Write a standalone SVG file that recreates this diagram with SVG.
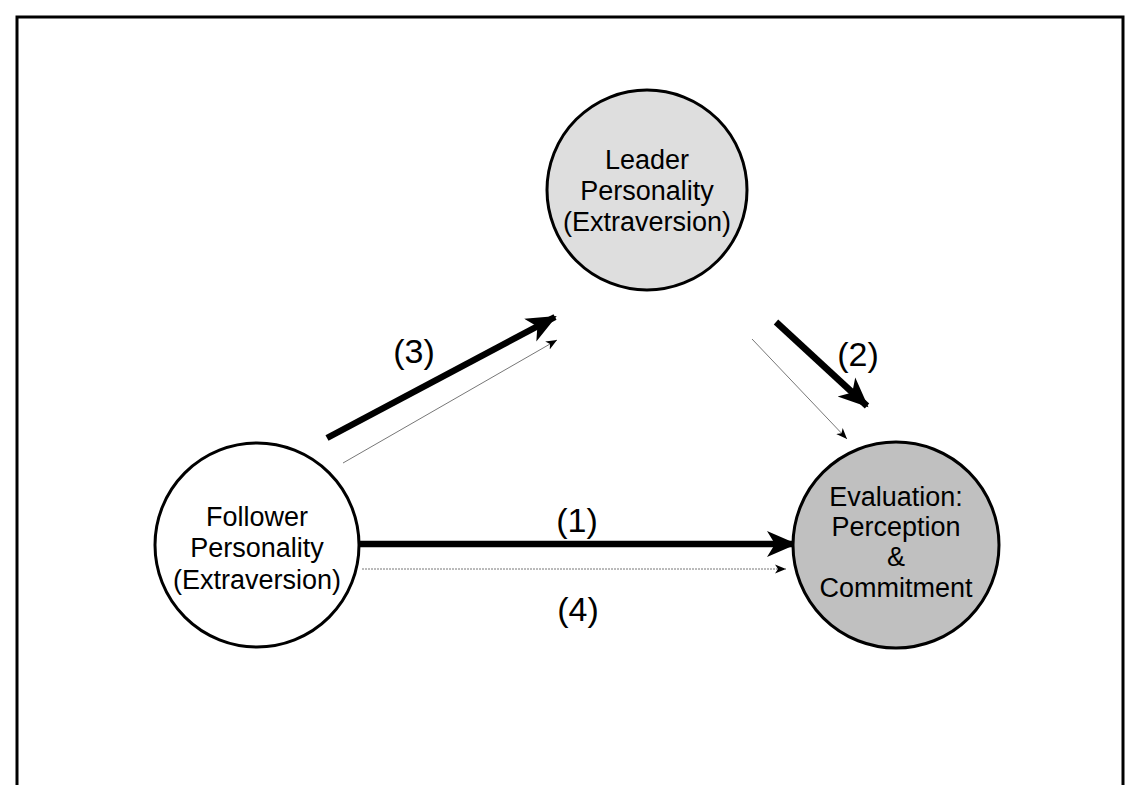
<svg xmlns="http://www.w3.org/2000/svg" width="1141" height="785" viewBox="0 0 1141 785">
<style>
.node{stroke:#000;stroke-width:3}
.t{font-family:"Liberation Sans",Arial,sans-serif;font-size:27px;fill:#000;text-anchor:middle}
.lbl{font-family:"Liberation Sans",Arial,sans-serif;font-size:34px;fill:#000;text-anchor:middle}
.thick{stroke:#000;stroke-width:6.5;fill:none}
.thin{stroke:#777;stroke-width:1;fill:none}
</style>
<defs>
<marker id="big" markerUnits="userSpaceOnUse" markerWidth="32" markerHeight="32" viewBox="0 0 32 32" refX="28" refY="16" orient="auto">
<path d="M0,3 L30,16 L0,29 L8,16 Z" fill="#000"/>
</marker>
<marker id="small" markerUnits="userSpaceOnUse" markerWidth="12" markerHeight="12" viewBox="0 0 12 12" refX="11" refY="6" orient="auto">
<path d="M0,1.5 L11,6 L0,10.5 L3,6 Z" fill="#000"/>
</marker>
</defs>
<rect x="0" y="0" width="1141" height="785" fill="#fff"/>
<path d="M17,785 L17,17 L1123,17 L1123,785" fill="none" stroke="#000" stroke-width="3"/>
<g id="connectors">
<line class="thick" x1="357" y1="544" x2="795" y2="544" marker-end="url(#big)"/>
<line class="thin" x1="362" y1="569" x2="786" y2="569" stroke-dasharray="2,1" marker-end="url(#small)"/>
<line class="thick" x1="327" y1="438" x2="555" y2="317" marker-end="url(#big)"/>
<line class="thin" x1="343" y1="463" x2="557" y2="340" marker-end="url(#small)"/>
<line class="thick" x1="776" y1="322" x2="867" y2="406" marker-end="url(#big)"/>
<line class="thin" x1="752" y1="339" x2="847" y2="439" marker-end="url(#small)"/>
<text class="lbl" x="577" y="532">(1)</text>
<text class="lbl" x="578" y="621">(4)</text>
<text class="lbl" x="414" y="363">(3)</text>
<text class="lbl" x="858" y="366">(2)</text>
</g>
<g id="leader">
<circle class="node" cx="647" cy="190" r="100" fill="#dedede"/>
<text class="t" x="647" y="169">Leader</text>
<text class="t" x="647" y="200">Personality</text>
<text class="t" x="647" y="231">(Extraversion)</text>
</g>
<g id="follower">
<circle class="node" cx="257" cy="545" r="102" fill="#fff"/>
<text class="t" x="257" y="526">Follower</text>
<text class="t" x="257" y="557">Personality</text>
<text class="t" x="257" y="589">(Extraversion)</text>
</g>
<g id="evaluation">
<circle class="node" cx="896" cy="545" r="103" fill="#c0c0c0"/>
<text class="t" x="896" y="506">Evaluation:</text>
<text class="t" x="896" y="536">Perception</text>
<text class="t" x="896" y="566">&amp;</text>
<text class="t" x="896" y="597">Commitment</text>
</g>
</svg>
